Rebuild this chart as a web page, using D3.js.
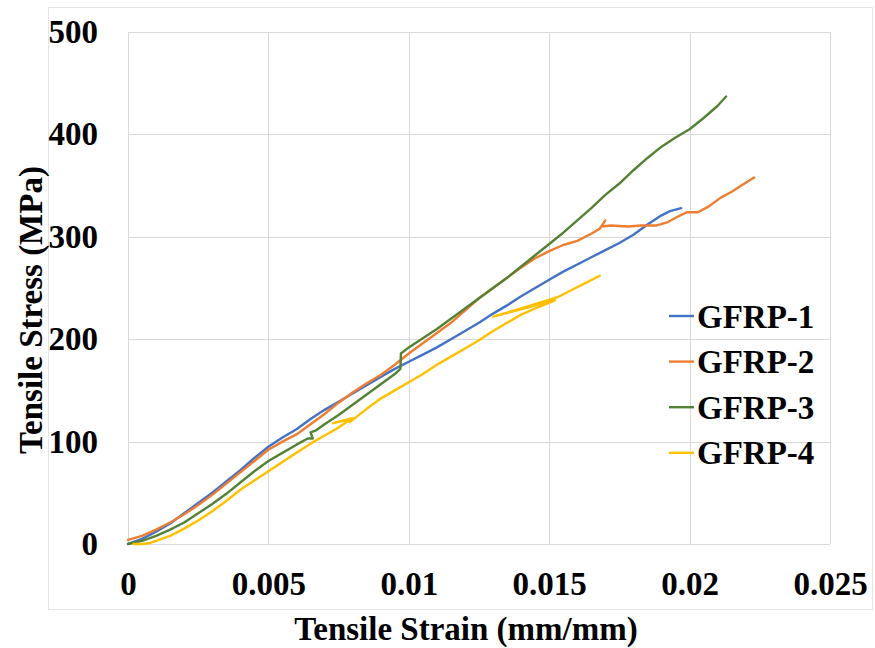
<!DOCTYPE html>
<html>
<head>
<meta charset="utf-8">
<script src="https://cdn.jsdelivr.net/npm/d3@7"></script>
<style>
  body { margin: 0; background: #fff; }
  svg { display: block; }
  text { font-family: "Times New Roman", "Liberation Serif", Times, "DejaVu Serif", serif; font-weight: 700; fill: #000; }
</style>
</head>
<body>
<svg id="chart" width="875" height="648"></svg>
<script>
// Tensile stress–strain curves of four GFRP coupons: [strain (mm/mm), stress (MPa)]
const seriesNames = ["GFRP-1", "GFRP-2", "GFRP-3", "GFRP-4"];
const seriesColors = ["#4472C4", "#ED7D31", "#548235", "#FFC000"];

const gfrp1 = [
  [0, 0], [0.0005, 5], [0.001, 12], [0.0015, 20], [0.002, 30], [0.0025, 40],
  [0.003, 50], [0.0035, 61], [0.004, 72], [0.0045, 84], [0.005, 95], [0.0055, 104],
  [0.006, 112], [0.0065, 122], [0.007, 131], [0.0075, 139], [0.008, 147], [0.0085, 155],
  [0.009, 163], [0.0095, 171], [0.010, 178], [0.0105, 185], [0.011, 192], [0.0115, 200],
  [0.012, 208], [0.0125, 216], [0.013, 225], [0.0135, 233], [0.014, 242], [0.0145, 250],
  [0.015, 258], [0.0155, 266], [0.016, 273], [0.0165, 280], [0.017, 287], [0.0175, 294],
  [0.018, 302], [0.0185, 312], [0.019, 321], [0.0193, 325], [0.0197, 328]
];

const gfrp2 = [
  [0, 4], [0.0005, 8], [0.001, 14], [0.0015, 21], [0.002, 29], [0.0025, 38],
  [0.003, 48], [0.0035, 59], [0.004, 70], [0.0045, 81], [0.005, 92], [0.0055, 100],
  [0.006, 107], [0.0065, 117], [0.007, 127], [0.0075, 138], [0.008, 148], [0.0085, 157],
  [0.009, 165], [0.0095, 175], [0.010, 186], [0.0105, 196], [0.011, 206], [0.0115, 216],
  [0.012, 228], [0.0125, 240], [0.013, 250], [0.0135, 260], [0.014, 270], [0.0145, 279],
  [0.015, 286], [0.0155, 292], [0.016, 296], [0.0165, 303], [0.0168, 308], [0.0170, 316],
  [0.01685, 310], [0.0172, 311], [0.0178, 310], [0.0183, 311], [0.0188, 311], [0.0192, 314],
  [0.0196, 320], [0.0199, 324], [0.0203, 324], [0.0207, 330], [0.0211, 338], [0.0215, 344],
  [0.0219, 351], [0.0223, 358]
];

const gfrp3 = [
  [0, 0], [0.0005, 3], [0.001, 8], [0.0015, 14], [0.002, 21], [0.0025, 30],
  [0.003, 39], [0.0035, 49], [0.004, 60], [0.0045, 71], [0.005, 81], [0.0055, 89],
  [0.006, 97], [0.0064, 103], [0.00658, 103], [0.0065, 109], [0.0067, 111], [0.007, 117],
  [0.0075, 126], [0.008, 136], [0.0085, 146], [0.009, 156], [0.0095, 166], [0.0097, 171],
  [0.00972, 186], [0.010, 192], [0.0105, 201], [0.011, 210], [0.0115, 220], [0.012, 230],
  [0.0125, 240], [0.013, 250], [0.0135, 260], [0.014, 271], [0.0145, 282], [0.015, 293],
  [0.0155, 304], [0.016, 316], [0.0165, 328], [0.017, 341], [0.0175, 352], [0.018, 365],
  [0.0185, 377], [0.019, 388], [0.0195, 397], [0.020, 405], [0.0205, 416], [0.021, 428],
  [0.0213, 437]
];

const gfrp4 = [
  [0.0002, 0], [0.0005, 0], [0.0008, 1], [0.001, 3], [0.0015, 8], [0.002, 15],
  [0.0025, 23], [0.003, 32], [0.0035, 42], [0.004, 53], [0.0045, 62], [0.005, 71],
  [0.0055, 80], [0.006, 89], [0.0065, 98], [0.007, 106], [0.0074, 112], [0.0080, 123],
  [0.0073, 118], [0.0078, 121], [0.0079, 119], [0.0085, 132], [0.009, 142], [0.0095, 150],
  [0.010, 158], [0.0105, 166], [0.011, 175], [0.0115, 183], [0.012, 191], [0.0125, 199],
  [0.013, 208], [0.0135, 216], [0.014, 224], [0.0145, 230], [0.0152, 238], [0.0130, 222],
  [0.0140, 230], [0.0153, 241], [0.0158, 248], [0.0163, 255], [0.0168, 262]
];

const seriesData = [gfrp1, gfrp2, gfrp3, gfrp4];

const xTicks = [0, 0.005, 0.01, 0.015, 0.02, 0.025];
const xTickLabels = ["0", "0.005", "0.01", "0.015", "0.02", "0.025"];
const yTicks = [0, 100, 200, 300, 400, 500];
const xTitle = "Tensile Strain (mm/mm)";
const yTitle = "Tensile Stress (MPa)";

// ---- layout ----
const fontStack = "'Times New Roman', 'Liberation Serif', Times, 'DejaVu Serif', serif";
const fontSize = 33;
const svg = d3.select("#chart");
const plot = { left: 128, right: 830, top: 32, bottom: 544 };
const gridColor = "#d9d9d9";

const x = d3.scaleLinear().domain([0, 0.025]).range([plot.left, plot.right]);
const y = d3.scaleLinear().domain([0, 500]).range([plot.bottom, plot.top]);

// outer chart frame
svg.append("rect")
  .attr("x", 48.5).attr("y", 7.5)
  .attr("width", 824).attr("height", 602)
  .attr("fill", "#fff")
  .attr("stroke", "#e4e4e4").attr("stroke-width", 1);

// gridlines
const grid = svg.append("g").attr("stroke", gridColor).attr("stroke-width", 1).attr("shape-rendering", "crispEdges");
grid.selectAll("line.h").data(yTicks).join("line")
  .attr("class", "h")
  .attr("x1", plot.left).attr("x2", plot.right)
  .attr("y1", d => Math.round(y(d)) + 0.5).attr("y2", d => Math.round(y(d)) + 0.5);
grid.selectAll("line.v").data(xTicks).join("line")
  .attr("class", "v")
  .attr("y1", plot.top).attr("y2", plot.bottom)
  .attr("x1", d => Math.round(x(d)) + 0.5).attr("x2", d => Math.round(x(d)) + 0.5);

// axes (labels only)
const xAxis = svg.append("g")
  .attr("transform", `translate(0,${plot.bottom})`)
  .call(d3.axisBottom(x).tickValues(xTicks).tickFormat((d, i) => xTickLabels[i]).tickSize(0).tickPadding(28));
const yAxis = svg.append("g")
  .attr("transform", `translate(${plot.left},0)`)
  .call(d3.axisLeft(y).tickValues(yTicks).tickFormat(d3.format("d")).tickSize(0).tickPadding(30));
[xAxis, yAxis].forEach(g => {
  g.attr("font-family", fontStack).attr("font-size", fontSize).attr("font-weight", 700);
  g.select(".domain").remove();
  g.selectAll("text")
    .attr("font-family", fontStack)
    .attr("font-weight", 700)
    .attr("font-size", fontSize)
    .attr("fill", "#000");
});

// curves
const line = d3.line().x(d => x(d[0])).y(d => y(d[1]));
svg.append("g").selectAll("path").data(seriesData).join("path")
  .attr("d", line)
  .attr("fill", "none")
  .attr("stroke", (d, i) => seriesColors[i])
  .attr("stroke-width", 2.4)
  .attr("stroke-linejoin", "round")
  .attr("stroke-linecap", "round");

// axis titles
svg.append("text")
  .attr("x", 466).attr("y", 640)
  .attr("text-anchor", "middle")
  .attr("font-family", fontStack)
  .attr("font-size", fontSize)
  .text(xTitle);
svg.append("text")
  .attr("transform", "translate(42,310) rotate(-90)")
  .attr("text-anchor", "middle")
  .attr("font-family", fontStack)
  .attr("font-size", fontSize)
  .text(yTitle);

// legend
const legendTop = 316, legendStep = 45.6;
const legend = svg.append("g").selectAll("g").data(seriesNames).join("g")
  .attr("transform", (d, i) => `translate(669,${legendTop + i * legendStep})`);
legend.append("line")
  .attr("x1", 0).attr("x2", 25).attr("y1", 0).attr("y2", 0)
  .attr("stroke", (d, i) => seriesColors[i])
  .attr("stroke-width", 2.4);
legend.append("text")
  .attr("x", 28).attr("dy", "0.35em")
  .attr("font-family", fontStack)
  .attr("font-size", fontSize)
  .text(d => d);
</script>
</body>
</html>
